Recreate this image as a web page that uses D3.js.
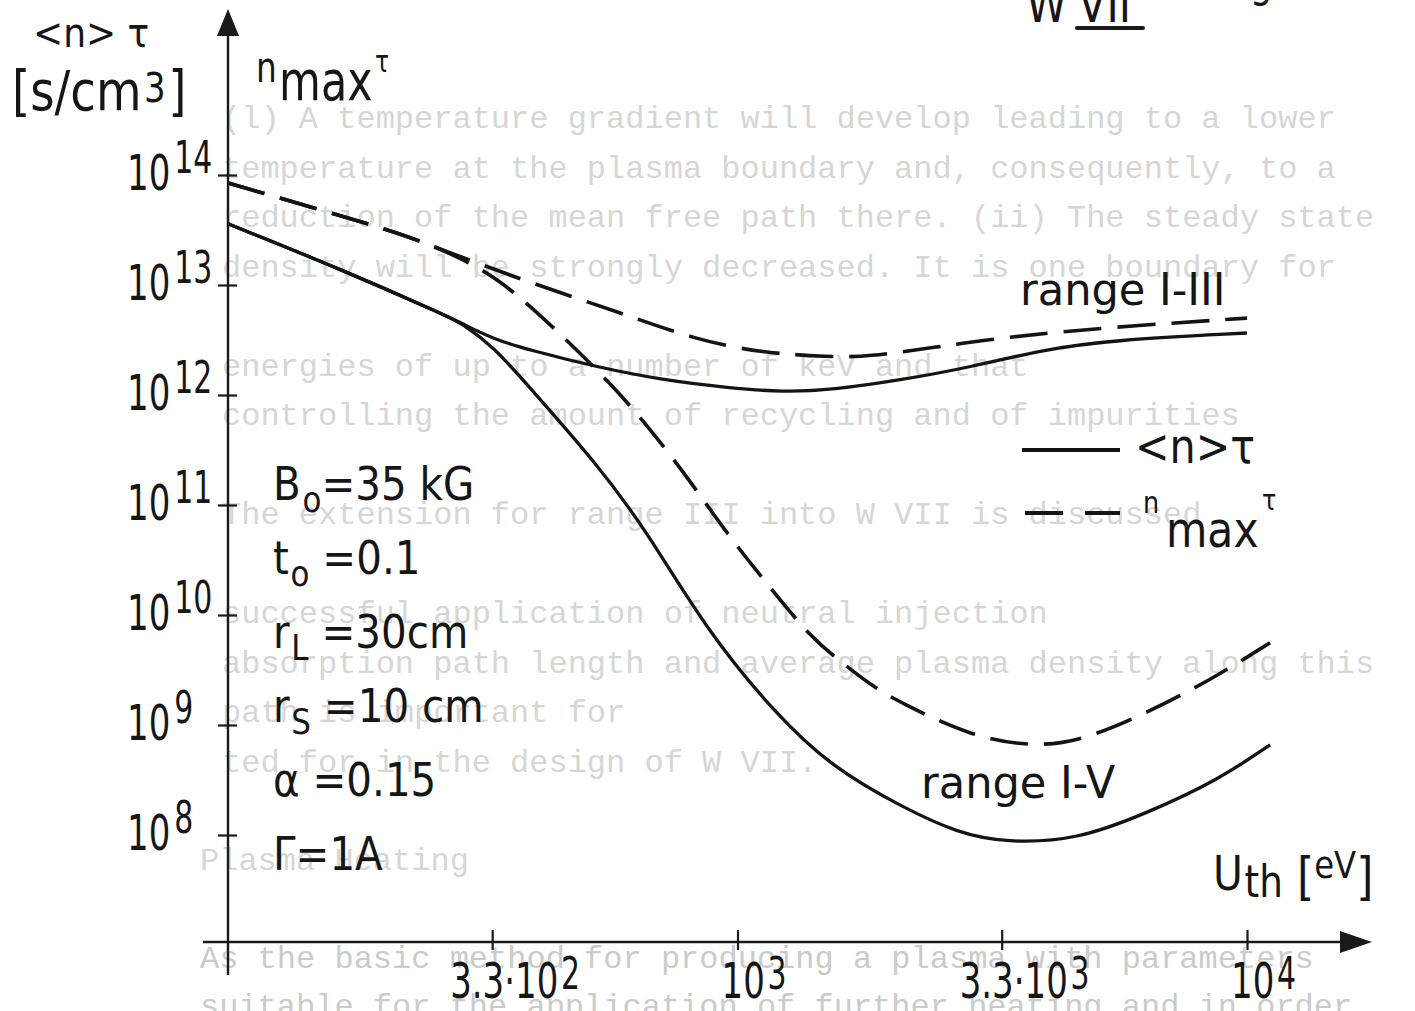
<!DOCTYPE html>
<html>
<head>
  <meta charset="UTF-8">
  <style>
    body { margin: 0; background: #fff; }
    svg { display: block; }
    .ink { font-family: 'DejaVu Sans', sans-serif; fill: #161616; }
    .ghost { font-family: 'Liberation Mono', 'DejaVu Sans Mono', monospace; fill: #d6d6d6; font-size: 32px; }
  </style>
</head>
<body>
<svg></svg>
<script src="https://d3js.org/d3.v7.min.js"></script>
<script>
// thermal energy U_th [eV] and confinement product [s/cm3]
// shared start of the solid <n>tau curves
const solidStartU = [100, 168, 272, 287];
const solidStartN = [3.6e13, 1.37e13, 5.1e12, 4.5e12];
// solid, range I-III
const solidI3U = [333, 390, 528, 712, 963, 1230, 1530, 2100, 2884, 3954, 5433, 10000];
const solidI3N = [3.2e12, 2.57e12, 1.8e12, 1.37e12, 1.16e12, 1.06e12, 1.11e12, 1.37e12, 1.8e12, 2.57e12, 3.16e12, 3.66e12];
// solid, range I-V
const solidI5U = [333, 390, 528, 662, 869, 1182, 1530, 2100, 2704, 3375, 4634, 6363, 8776, 11100];
const solidI5N = [2.73e12, 1.18e12, 2.41e11, 5.9e10, 7.3e9, 1.29e9, 4.15e8, 1.8e8, 1.04e8, 8.5e7, 9.0e7, 1.58e8, 3.16e8, 6.6e8];
// shared start of the dashed n_max tau curves
const dashStartU = [100, 160, 217, 278];
const dashStartN = [8.46e13, 4.5e13, 2.97e13, 1.9e13];
// dashed, range I-III
const dashI3U = [378, 589, 830, 1120, 1516, 1792, 2461, 3375, 5433, 10000];
const dashI3N = [1.11e13, 5.6e12, 3.16e12, 2.41e12, 2.22e12, 2.22e12, 2.73e12, 3.37e12, 4.15e12, 5.0e12];
// dashed, range I-V
const dashI5U = [344, 441, 561, 672, 805, 950, 1156, 1391, 1579, 1849, 2100, 2884, 3830, 4786, 6363, 8491, 11100];
const dashI5N = [1.11e13, 3.9e12, 1.31e12, 5.0e11, 1.69e11, 5.6e10, 1.8e10, 6.3e9, 3.9e9, 2.21e9, 1.58e9, 7.8e8, 6.3e8, 7.3e8, 1.29e9, 2.57e9, 5.6e9];

const yTickExp = [14, 13, 12, 11, 10, 9, 8];
const xTicks = [330, 1000, 3300, 10000];
const xTickPre = ["3.3·", "", "3.3·", ""];
const xTickExp = ["2", "3", "3", "4"];
const params = [
  [{t: "B"}, {t: "o", sub: true}, {t: "=35 kG"}],
  [{t: "t"}, {t: "o", sub: true}, {t: " =0.1"}],
  [{t: "r"}, {t: "L", sub: true}, {t: " =30cm"}],
  [{t: "r"}, {t: "S", sub: true}, {t: " =10 cm"}],
  [{t: "α =0.15"}],
  [{t: "Γ=1A"}]
];
// typed page text showing through the drawing
const ghostLines = [
  "(l) A temperature gradient will develop leading to a lower",
  "temperature at the plasma boundary and, consequently, to a",
  "reduction of the mean free path there. (ii) The steady state",
  "density will be strongly decreased. It is one boundary for",
  "",
  "energies of up to a number of keV and that",
  "controlling the amount of recycling and of impurities",
  "",
  "The extension for range III into W VII is discussed",
  "",
  "successful application of neutral injection",
  "absorption path length and average plasma density along this",
  "path is important for",
  "ted for in the design of W VII."
];

const W = 1415, H = 1011;
const svg = d3.select("svg").attr("width", W).attr("height", H);

const x = d3.scaleLog().domain([100, 10000]).range([228, 1247]);
const y = d3.scaleLog().domain([1e8, 1e14]).range([835, 175]);

// ghost text
const ghost = svg.append("g");
ghostLines.forEach((s, i) => {
  ghost.append("text").attr("class", "ghost").attr("x", 222).attr("y", 128 + i * 49.5).text(s);
});
ghost.append("text").attr("class", "ghost").attr("x", 200).attr("y", 870).text("Plasma Heating");
ghost.append("text").attr("class", "ghost").attr("x", 200).attr("y", 968).style("fill", "#cbcbcb")
  .text("As the basic method for producing a plasma with parameters");
ghost.append("text").attr("class", "ghost").attr("x", 200).attr("y", 1016).style("fill", "#cbcbcb")
  .text("suitable for the application of further heating and in order");

function lettering(px, py, parts, sx, base) {
  const t = svg.append("text").attr("class", "ink")
    .attr("transform", `translate(${px},${py}) scale(${sx},1)`);
  parts.forEach(p => {
    t.append("tspan").attr("y", p.dy || 0).attr("dx", p.dx || 0)
      .attr("font-size", p.size || base).text(p.t);
  });
  return t;
}

// axes
const axisInk = "#1a1a1a";
svg.append("line").attr("x1", 228).attr("x2", 228).attr("y1", 975).attr("y2", 30)
  .attr("stroke", axisInk).attr("stroke-width", 2.4);
svg.append("path").attr("d", "M228,9 L217,36 L239,36 Z").attr("fill", axisInk);
svg.append("line").attr("x1", 203).attr("x2", 1345).attr("y1", 942).attr("y2", 942)
  .attr("stroke", axisInk).attr("stroke-width", 2.6);
svg.append("path").attr("d", "M1372,942 L1340,931 L1340,953 Z").attr("fill", axisInk);

const yAxis = svg.append("g").attr("transform", "translate(228,0)")
  .call(d3.axisLeft(y).tickValues(yTickExp.map(e => Math.pow(10, e))).tickSize(10).tickFormat(""));
yAxis.select(".domain").remove();
yAxis.selectAll(".tick line").attr("x1", 9).attr("stroke", axisInk).attr("stroke-width", 2.2);

const xAxis = svg.append("g").attr("transform", "translate(0,942)")
  .call(d3.axisBottom(x).tickValues(xTicks).tickSize(8).tickFormat(""));
xAxis.select(".domain").remove();
xAxis.selectAll(".tick line").attr("y1", -12).attr("stroke", axisInk).attr("stroke-width", 2.2);

// y tick labels
yTickExp.forEach(e => {
  lettering(127, y(Math.pow(10, e)) + 15,
    [{t: "10", size: 50}, {t: String(e), size: 44, dy: -17, dx: 6}], 0.68);
});
// x tick labels
xTicks.forEach((v, i) => {
  const off = xTickPre[i] ? -42 : -16;
  lettering(x(v) + off, 998,
    [{t: xTickPre[i] + "10", size: 50}, {t: xTickExp[i], size: 44, dy: -9, dx: 4}], 0.68);
});

// axis titles
lettering(33, 47, [{t: "<n> τ", size: 40}], 0.9);
lettering(12, 110, [{t: "[s/cm", size: 55}, {t: "3", size: 40, dy: -8, dx: 3}, {t: "]", size: 55, dy: 0, dx: 3}], 0.85);
lettering(256, 82, [{t: "n", size: 42}, {t: "max", size: 55, dy: 18, dx: 3}, {t: "τ", size: 30, dy: -10, dx: 3}], 0.78);
lettering(1213, 890, [{t: "U", size: 48}, {t: "th", size: 44, dy: 7, dx: 2}, {t: " [", size: 52, dy: 4}, {t: "eV", size: 38, dy: -12}, {t: "]", size: 52, dy: 4}], 0.85);

// parameters
params.forEach((row, i) => {
  lettering(273, 500 + i * 74, row.map(p => p.sub
    ? {t: p.t, size: 36, dy: 12, dx: 2}
    : {t: p.t, size: 47, dy: 0}), 0.86);
});

// top corner lettering
lettering(1026, 22, [{t: "W", size: 52}], 0.8);
lettering(1078, 22, [{t: "VII", size: 52}], 0.8);
svg.append("line").attr("x1", 1077).attr("x2", 1143).attr("y1", 28).attr("y2", 28)
  .attr("stroke", axisInk).attr("stroke-width", 4).attr("stroke-linecap", "round");
lettering(1250, -3, [{t: "g", size: 44}], 0.8);

// curves
const line = d3.line().x(d => x(d[0])).y(d => y(d[1])).curve(d3.curveBasis);
const zipUN = (us, ns) => us.map((u, i) => [u, ns[i]]);
const series = [
  {pts: zipUN(solidStartU.concat(solidI3U), solidStartN.concat(solidI3N)), dash: null},
  {pts: zipUN(solidStartU.concat(solidI5U), solidStartN.concat(solidI5N)), dash: null},
  {pts: zipUN(dashStartU.concat(dashI3U), dashStartN.concat(dashI3N)), dash: "38,16"},
  {pts: zipUN(dashStartU.concat(dashI5U), dashStartN.concat(dashI5N)), dash: "38,16"}
];
svg.append("g").selectAll("path").data(series).join("path")
  .attr("d", d => line(d.pts))
  .attr("fill", "none")
  .attr("stroke", "#141414")
  .attr("stroke-width", d => d.dash ? 3.6 : 3.3)
  .attr("stroke-dasharray", d => d.dash);

// curve labels
lettering(1020, 305, [{t: "range I-III", size: 44}], 0.98);
lettering(921, 798, [{t: "range I-V", size: 44}], 0.98);

// legend
svg.append("line").attr("x1", 1022).attr("x2", 1120).attr("y1", 450).attr("y2", 450)
  .attr("stroke", "#141414").attr("stroke-width", 4);
lettering(1135, 463, [{t: "<n>τ", size: 48}], 0.86);
svg.append("line").attr("x1", 1025).attr("x2", 1120).attr("y1", 513).attr("y2", 513)
  .attr("stroke", "#141414").attr("stroke-width", 4).attr("stroke-dasharray", "38,22");
lettering(1143, 513, [{t: "n", size: 30}, {t: "max", size: 50, dy: 34, dx: 8}, {t: "τ", size: 28, dy: -3, dx: 4}], 0.85);
</script>
</body>
</html>
